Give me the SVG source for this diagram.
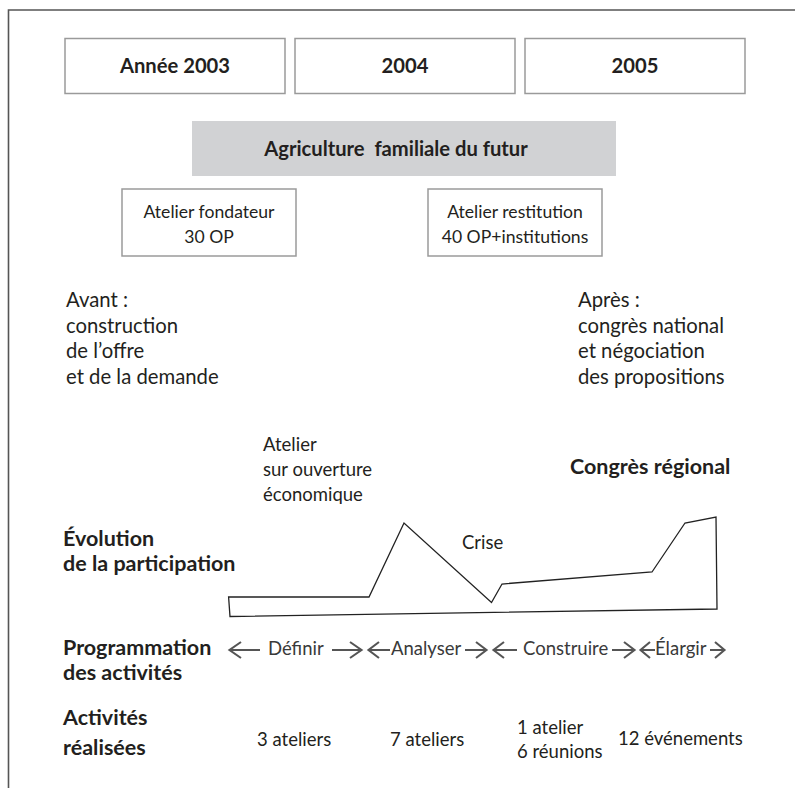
<svg xmlns="http://www.w3.org/2000/svg" width="795" height="788" viewBox="0 0 795 788">
<style>
  .b{font-family:Lato,"Open Sans","Liberation Sans",sans-serif;font-weight:bold;font-size:21.5px;fill:#231f20}
  .h{font-family:Lato,"Open Sans","Liberation Sans",sans-serif;font-weight:bold;font-size:20.2px;fill:#231f20}
  .r{font-family:Lato,"Open Sans","Liberation Sans",sans-serif;font-size:18.5px;fill:#231f20}
  .s{font-family:Lato,"Open Sans","Liberation Sans",sans-serif;font-size:17.6px;fill:#231f20}
  .l{font-family:Lato,"Open Sans","Liberation Sans",sans-serif;font-size:20.3px;fill:#231f20}
  .g{font-family:Lato,"Open Sans","Liberation Sans",sans-serif;font-size:18.5px;fill:#3a3a3a}
  .box{fill:#fff;stroke:#9a9a9a;stroke-width:1.5}
  .arr{fill:none;stroke:#555;stroke-width:2.1}
  .m{text-anchor:middle}
</style>
<rect width="795" height="788" fill="#fff"/>
<path d="M8.5,788 V10 H795" fill="none" stroke="#555" stroke-width="1.6"/>

<g id="year2003"><rect class="box" x="65" y="38.5" width="220" height="55"/><text class="h m" x="175" y="73">Année 2003</text></g>
<g id="year2004"><rect class="box" x="295" y="38.5" width="220" height="55"/><text class="h m" x="405" y="73">2004</text></g>
<g id="year2005"><rect class="box" x="525" y="38.5" width="220" height="55"/><text class="h m" x="635" y="73">2005</text></g>

<g id="agriculture"><rect x="192" y="121" width="424" height="55" fill="#d1d2d4"/><text class="h m" x="396" y="156" xml:space="preserve">Agriculture  familiale du futur</text></g>

<g id="atelier-fondateur"><rect class="box" x="122" y="189" width="174" height="67" stroke-width="1.2"/><text class="s m" x="209" y="218">Atelier fondateur</text><text class="s m" x="209" y="243">30 OP</text></g>
<g id="atelier-restitution"><rect class="box" x="428" y="189" width="174" height="67" stroke-width="1.2"/><text class="s m" x="515" y="218">Atelier restitution</text><text class="s m" x="515" y="243">40 OP+institutions</text></g>

<g id="avant"><text class="l" x="66" y="307">Avant :</text><text class="l" x="66" y="332.5">construction</text><text class="l" x="66" y="358">de l’offre</text><text class="l" x="66" y="383.5">et de la demande</text></g>
<g id="apres"><text class="l" x="578" y="307">Après :</text><text class="l" x="578" y="332.5">congrès national</text><text class="l" x="578" y="358">et négociation</text><text class="l" x="578" y="383.5">des propositions</text></g>

<g id="atelier-ouverture"><text class="r" x="263" y="451">Atelier</text><text class="r" x="263" y="476">sur ouverture</text><text class="r" x="263" y="501">économique</text></g>
<g id="congres-regional"><text class="b" x="570" y="474">Congrès régional</text></g>

<g id="evolution"><text class="b" x="63" y="546">Évolution</text><text class="b" x="63" y="571">de la participation</text></g>
<g id="participation-curve"><path d="M228.6,597 L369,597 L404,523 L491.5,602.5 L502,584 L652,572 L685,523 L716,517 L717,609 L230,616.5 Z" fill="none" stroke="#222" stroke-width="1.3"/></g>
<g id="crise"><text class="r" x="462" y="549">Crise</text></g>

<g id="programmation"><text class="b" x="63" y="655">Programmation</text><text class="b" x="63" y="680">des activités</text></g>
<g id="phases">
  <text class="g" x="268" y="655">Définir</text>
  <text class="g" x="391" y="655">Analyser</text>
  <text class="g" x="523" y="655">Construire</text>
  <text class="g" x="655" y="655">Élargir</text>
</g>
<g id="connectors">
  <path class="arr" d="M241,642 L229.5,650 L241,658 M229.5,650 H260"/>
  <path class="arr" d="M332,650 H361.5 M350,642 L361.5,650 L350,658"/>
  <path class="arr" d="M379,642 L368.5,650 L379,658 M368.5,650 H390"/>
  <path class="arr" d="M465,650 H486.5 M476,642 L486.5,650 L476,658"/>
  <path class="arr" d="M504,642 L493.5,650 L504,658 M493.5,650 H517"/>
  <path class="arr" d="M612,650 H634.5 M624,642 L634.5,650 L624,658"/>
  <path class="arr" d="M650,642 L640.5,650 L650,658 M640.5,650 H655"/>
  <path class="arr" d="M710,650 H724.5 M715,642 L724.5,650 L715,658"/>
</g>

<g id="activites"><text class="b" x="63" y="725">Activités</text><text class="b" x="63" y="755">réalisées</text></g>
<g id="realisees">
  <text class="r" x="257" y="746">3 ateliers</text>
  <text class="r" x="390" y="746">7 ateliers</text>
  <text class="r" x="517" y="734">1 atelier</text>
  <text class="r" x="517" y="758">6 réunions</text>
  <text class="r" x="618" y="745">12 événements</text>
</g>
</svg>
